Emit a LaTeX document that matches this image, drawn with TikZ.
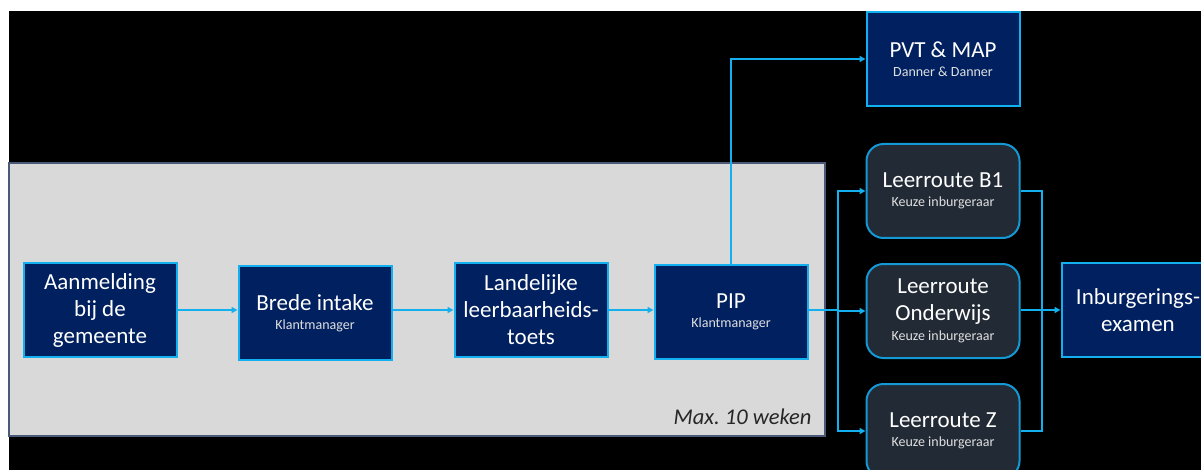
\documentclass[tikz,border=0pt]{standalone}
\usepackage{fontspec}
\setmainfont{Carlito}
\usetikzlibrary{arrows.meta}

\definecolor{navy}{HTML}{002060}
\definecolor{lijn}{HTML}{12B0EE}
\definecolor{leisteen}{HTML}{222A35}
\definecolor{rand}{HTML}{1399D6}
\definecolor{paneel}{HTML}{D9D9D9}
\definecolor{paneelrand}{HTML}{4A5A78}
\newcommand{\klein}[1]{{\fontsize{14}{16}\selectfont\color{white!88!black}#1}}
\frenchspacing

\begin{document}
\begin{tikzpicture}[x=1pt,y=-1pt,
    box/.style={draw=lijn,line width=2pt,fill=navy,text=white,align=center,
        minimum width=153pt,minimum height=94pt,inner sep=0pt,
        font=\fontsize{23}{27}\selectfont},
    rbox/.style={box,draw=rand,fill=leisteen,rounded corners=17pt},
    arr/.style={draw=lijn,line width=1.5pt,-{Triangle[length=6pt,width=6pt]}}]
       \useasboundingbox (0,0) rectangle (1201,470);
       \clip (0,0) rectangle (1201,470);
       \fill[black] (9,11) rectangle (1201,470);%achtergrond
       \draw[paneelrand,line width=1.5pt,fill=paneel] (9,163) rectangle (825,436);%paneel
       \node[anchor=base east,text=black!85,font=\fontsize{22.5}{26}\selectfont\itshape]
           (max) at (815,424) {Max. 10 weken};

       \node[box] (aan) at (100,310) {Aanmelding\\bij de\\gemeente};
       \node[box] (brede) at (315,313) {Brede intake\\[-8pt]\klein{Klantmanager}};
       \node[box] (toets) at (531,310) {Landelijke\\leerbaarheids-\\toets};
       \node[box] (pip) at (731,312) {PIP\\[-8pt]\klein{Klantmanager}};
       \node[box] (pvt) at (943,59) {PVT \& MAP\\[-8pt]\klein{Danner \& Danner}};
       \node[rbox] (b1) at (943,191) {Leerroute B1\\[-8pt]\klein{Keuze inburgeraar}};
       \node[rbox] (ond) at (943,311) {Leerroute\\Onderwijs\\[-7pt]\klein{Keuze inburgeraar}};
       \node[rbox] (z) at (943,431) {Leerroute Z\\[-8pt]\klein{Keuze inburgeraar}};
       \node[box] (inb) at (1138,310) {Inburgerings-\\examen};

       \coordinate (splits) at (838,310);%splitsing
       \coordinate (samen) at (1042,310);%samenkomst

       \draw[arr] (aan) -- (aan -| brede.west);
       \draw[arr] (brede.east |- aan) -- (toets);
       \draw[arr] (toets) -- (pip.west |- toets);
       \draw[arr] (pip.north) |- (pvt.west);
       \draw[draw=lijn,line width=1.5pt] (pip.east |- splits) -- (splits);
       \foreach \n in {b1,ond,z}
           \draw[arr] (splits) |- (\n.west);%naar de leerroutes
       \draw[draw=lijn,line width=1.5pt] (b1.east) -| (samen) |- (z.east);
       \draw[arr] (ond.east |- samen) -- (inb.west);
\end{tikzpicture}
\end{document}
